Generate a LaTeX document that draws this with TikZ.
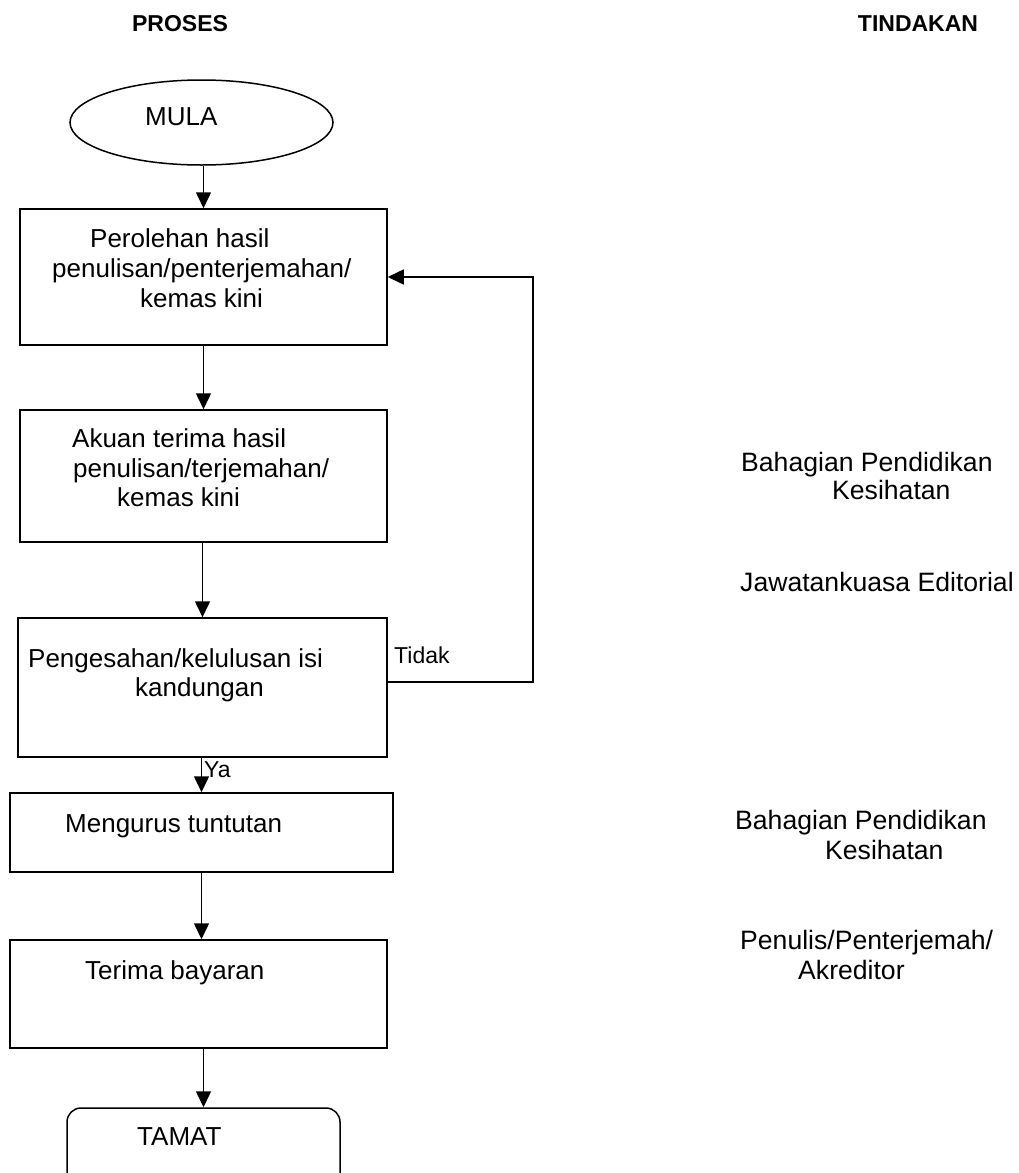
\documentclass[tikz,border=0pt]{standalone}
\usepackage{fontspec}
\setmainfont{Liberation Sans}
\usetikzlibrary{shapes.geometric,arrows.meta}
\begin{document}
\begin{tikzpicture}[x=1pt,y=-1pt,
  box/.style={draw, line width=1.5pt, rectangle, inner sep=0pt},
  oval/.style={draw, line width=1.5pt, ellipse, inner sep=0pt},
  rbox/.style={draw, line width=1.5pt, rectangle, rounded corners=14pt, inner sep=0pt},
  arr/.style={line width=1.5pt, -{Triangle[length=16pt,width=15pt]}},
  tx/.style={anchor=base west, inner sep=0pt, font=\fontsize{26}{30}\selectfont},
  rt/.style={anchor=base west, inner sep=0pt, font=\fontsize{26.6}{30}\selectfont},
  sm/.style={anchor=base west, inner sep=0pt, font=\fontsize{23}{28}\selectfont},
  hd/.style={anchor=base, inner sep=0pt, font=\fontsize{23}{28}\selectfont\bfseries}]
\useasboundingbox (0,0) rectangle (1019,1173);
\clip (0,0) rectangle (1019,1173);
% headers
\node[hd] (hproses) at (180,31) {PROSES};
\node[hd] (htindakan) at (918,31) {TINDAKAN};
% shapes
\node[oval, minimum width=263pt, minimum height=85pt] (mula) at (201.5,122.5) {};
\node[box, minimum width=367pt, minimum height=136pt] (b1) at (203.5,277) {};
\node[box, minimum width=367pt, minimum height=132pt] (b2) at (203.5,476) {};
\node[box, minimum width=369pt, minimum height=139pt] (b3) at (202.5,687.5) {};
\node[box, minimum width=383pt, minimum height=79pt] (b4) at (201.5,832.5) {};
\node[box, minimum width=377pt, minimum height=108pt] (b5) at (198.5,994) {};
\node[rbox, minimum width=273pt, minimum height=80pt] (tamat) at (203.5,1148) {};
% texts
\node[tx] (tmula) at (145,125) {MULA};
\node[tx] (t1a) at (90,247) {Perolehan hasil};
\node[tx] (t1b) at (52,277) {penulisan/penterjemahan/};
\node[tx] (t1c) at (140,307) {kemas kini};
\node[tx] (t2a) at (72,447) {Akuan terima hasil};
\node[tx] (t2b) at (73,477) {penulisan/terjemahan/};
\node[tx] (t2c) at (117,506) {kemas kini};
\node[tx] (t3a) at (28,667) {Pengesahan/kelulusan isi};
\node[tx] (t3b) at (135,696) {kandungan};
\node[tx] (t4) at (65,832) {Mengurus tuntutan};
\node[tx] (t5) at (85,979) {Terima bayaran};
\node[tx] (t6) at (137,1145) {TAMAT};
\node[sm] (tidak) at (394,663) {Tidak};
\node[sm] (ya) at (204,777) {Ya};
% right column
\node[rt] (r1a) at (741,471) {Bahagian Pendidikan};
\node[rt] (r1b) at (832,499) {Kesihatan};
\node[rt] (r2) at (740,591) {Jawatankuasa Editorial};
\node[rt] (r3a) at (735,829) {Bahagian Pendidikan};
\node[rt] (r3b) at (825,859) {Kesihatan};
\node[rt] (r4a) at (740,949) {Penulis/Penterjemah/};
\node[rt] (r4b) at (798,979) {Akreditor};
% connectors
\draw[arr] (b1.north |- mula.south) -- (b1.north);
\draw[arr] (b1.south) -- (b2.north);
\draw[arr] (b3.north |- b2.south) -- (b3.north);
\draw[arr] (b4.north |- b3.south) -- (b4.north);
\draw[arr] (b4.south) -- (b4.south |- b5.north);
\draw[arr] (tamat.north |- b5.south) -- (tamat.north);
\coordinate (c1) at (533,682);
\coordinate (c2) at (533,277);
\draw[arr] (b3.east |- c1) -- (c1) -- (c2) -- (b1.east |- c2);
\end{tikzpicture}
\end{document}
